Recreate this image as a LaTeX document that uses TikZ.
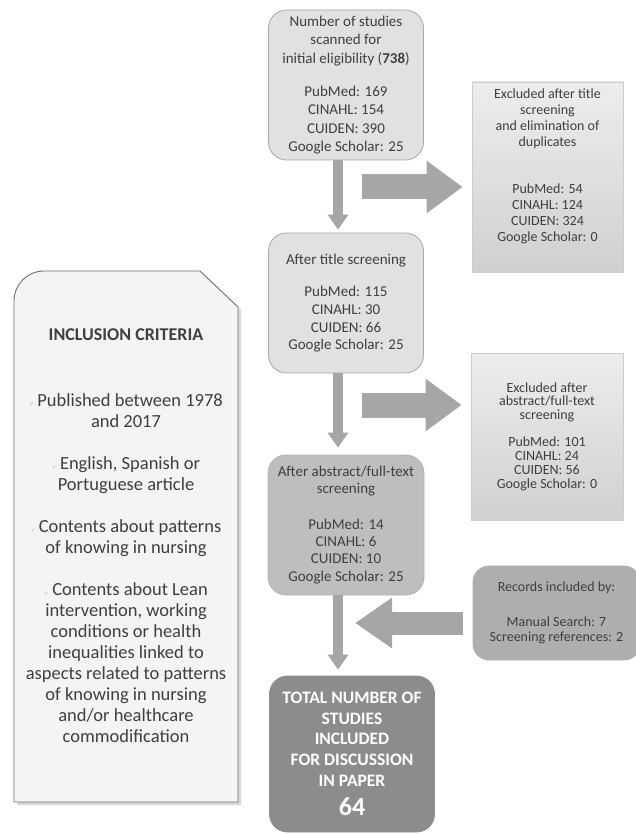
\documentclass[tikz,border=0pt]{standalone}
\usepackage{fontspec}
\setmainfont{Carlito}
\newfontfamily\dejavu{DejaVu Sans}
\usetikzlibrary{arrows.meta,calc}
\definecolor{txt}{HTML}{3F3F3F}
\definecolor{fone}{HTML}{E1E1E1}
\definecolor{bdone}{HTML}{A8A8A8}
\definecolor{fthree}{HTML}{BEBEBE}
\definecolor{frec}{HTML}{AEAEAE}
\definecolor{ffour}{HTML}{8C8C8C}
\definecolor{arr}{HTML}{A6A6A6}
\definecolor{exa}{HTML}{EDEDED}
\definecolor{exb}{HTML}{D0D0D0}
\definecolor{incl}{HTML}{F5F4F5}
\definecolor{inclbd}{HTML}{6E6E6E}
\newcommand{\ck}{{\dejavu\fontsize{6}{6}\selectfont\textcolor{gray!60}{✓}}\,}
\begin{document}
\begin{tikzpicture}[x=1pt,y=-1pt,
  every node/.style={text=txt, align=center, inner sep=0pt},
  mainbox/.style={draw=bdone, line width=0.8pt, rounded corners=18pt, fill=fone},
  exbox/.style={draw=gray!40, line width=0.6pt, top color=exa, bottom color=exb},
  downarrow/.style={draw=arr, line width=10pt, -{Triangle[length=15pt,width=20pt]}},
  sidearrow/.style={draw=arr, line width=25pt, -{Triangle[length=36pt,width=50pt]}},
  backarrow/.style={draw=arr, line width=23pt, -{Triangle[length=37pt,width=48pt]}}
]
\useasboundingbox (0,0) rectangle (636,834);

% inclusion criteria panel
\fill[gray!30] (17,805) -- (17,304) .. controls (17,287.4) and (30.4,274) .. (47,274) -- (203,274) -- (241,310) -- (241,805) -- cycle;
\draw[fill=incl, draw=inclbd, line width=0.9pt] (14,802) -- (14,301) .. controls (14,284.4) and (27.4,271) .. (44,271) -- (200,271) -- (238,307) -- (238,802) -- cycle;
\node[anchor=north, font=\fontsize{18.5}{21}\selectfont] (inc) at (126,328) {%
{\bfseries\fontsize{18}{21}\selectfont INCLUSION CRITERIA}\\[45pt]
\ck Published between 1978\\ and 2017\\[21pt]
\ck English, Spanish or\\ Portuguese article\\[21pt]
\ck Contents about patterns\\ of knowing in nursing\\[21pt]
\ck Contents about Lean\\ intervention, working\\ conditions or health\\ inequalities linked to\\ aspects related to patterns\\ of knowing in nursing\\ and/or healthcare\\ commodification};

% main column
\node[mainbox, minimum width=155pt, minimum height=150pt, font=\fontsize{15}{18.5}\selectfont] (b1) at (346,85)
  {Number of studies\\ scanned for\\ initial eligibility (\textbf{738})\\[14.5pt] PubMed: 169\\ CINAHL: 154\\ CUIDEN: 390\\ Google Scholar: 25};
\node[mainbox, minimum width=155pt, minimum height=140pt, font=\fontsize{15}{17.7}\selectfont] (b2) at (346,303)
  {After title screening\\[15pt] PubMed: 115\\ CINAHL: 30\\ CUIDEN: 66\\ Google Scholar: 25};
\node[mainbox, fill=fthree, draw=gray!60, minimum width=156pt, minimum height=140pt, font=\fontsize{15}{17.3}\selectfont] (b3) at (346,525)
  {After abstract/full-text\\ screening\\[18pt] PubMed: 14\\ CINAHL: 6\\ CUIDEN: 10\\ Google Scholar: 25};
\node[mainbox, fill=ffour, draw=ffour, minimum width=165pt, minimum height=156pt, text=white, font=\bfseries\fontsize{17.5}{20.7}\selectfont] (b4) at (352,754)
  {TOTAL NUMBER OF\\ STUDIES\\ INCLUDED\\ FOR DISCUSSION\\ IN PAPER\\[9pt] {\fontsize{26}{26}\selectfont 64}};

% right column
\node[exbox, minimum width=151pt, minimum height=190pt] (ex1) at (547.5,177) {};
\node[anchor=north, font=\fontsize{14}{16}\selectfont] (ex1t) at (547.5,89)
  {Excluded after title\\ screening\\ and elimination of\\ duplicates\\[31pt] PubMed: 54\\ CINAHL: 124\\ CUIDEN: 324\\ Google Scholar: 0};
\node[exbox, minimum width=152pt, minimum height=167pt, font=\fontsize{14}{13.8}\selectfont] (ex2) at (547,436.5)
  {Excluded after\\ abstract/full-text\\ screening\\[13.5pt] PubMed: 101\\ CINAHL: 24\\ CUIDEN: 56\\ Google Scholar: 0};
\node[mainbox, fill=frec, draw=frec, rounded corners=16pt, minimum width=167pt, minimum height=94pt, font=\fontsize{14}{15}\selectfont] (rec) at (556.5,613)
  {Records included by:\\[20pt] Manual Search: 7\\ Screening references: 2};

% connectors
\draw[downarrow, shorten >=3pt] ([xshift=-8pt]b1.south) -- ([xshift=-8pt]b2.north);
\draw[downarrow, shorten >=7pt] ([xshift=-8pt]b2.south) -- ([xshift=-8pt]b3.north);
\draw[downarrow, shorten >=6pt] ([xshift=-8pt]b3.south) -- ([xshift=-14pt]b4.north);
\coordinate (s1) at (362,187);
\coordinate (s2) at (362,405);
\coordinate (s3) at (355,623);
\draw[sidearrow, shorten >=9pt] (s1) -- (s1 -| ex1.west);
\draw[sidearrow, shorten >=9pt] (s2) -- (s2 -| ex2.west);
\draw[backarrow, shorten <=10pt] (s3 -| rec.west) -- (s3);
\end{tikzpicture}
\end{document}
